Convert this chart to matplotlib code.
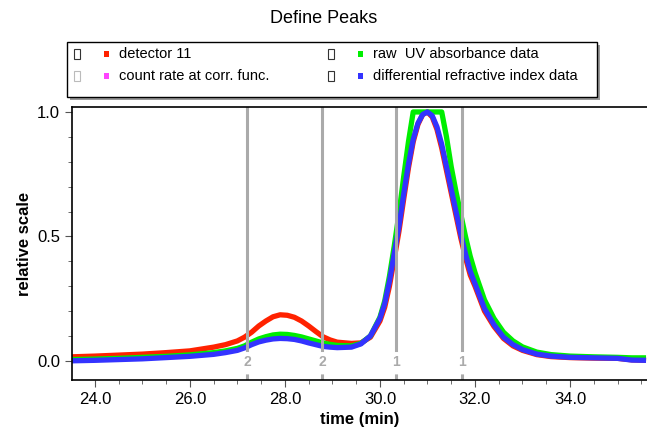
import matplotlib
matplotlib.use('Agg')
import matplotlib.pyplot as plt
from matplotlib.patches import Rectangle
from matplotlib.ticker import MultipleLocator

plt.rcParams['font.family'] = ['Liberation Sans', 'DejaVu Sans']

# time axis (min)
t = [23.5, 24.0, 24.5, 25.0, 25.5, 26.0, 26.5, 26.75, 27.0, 27.15, 27.3, 27.45, 27.6, 27.75,
     27.9, 28.05, 28.2, 28.35, 28.5, 28.65, 28.8, 28.95, 29.1, 29.4, 29.6, 29.8, 30.0, 30.1,
     30.2, 30.3, 30.4, 30.5, 30.6, 30.7, 30.8, 30.9, 31.0, 31.1, 31.2, 31.3, 31.4, 31.5,
     31.6, 31.7, 31.8, 31.9, 32.0, 32.2, 32.4, 32.6, 32.8, 33.0, 33.3, 33.6, 34.0, 34.5,
     35.0, 35.3, 35.6]

detector11 = [0.016, 0.019, 0.023, 0.027, 0.033, 0.040, 0.055, 0.065, 0.080, 0.095, 0.115,
              0.140, 0.160, 0.177, 0.185, 0.183, 0.175, 0.160, 0.140, 0.118, 0.097, 0.084,
              0.075, 0.070, 0.072, 0.095, 0.160, 0.215, 0.300, 0.410, 0.520, 0.650, 0.775,
              0.880, 0.950, 0.990, 1.000, 0.980, 0.930, 0.855, 0.765, 0.675, 0.585, 0.495,
              0.415, 0.345, 0.300, 0.200, 0.138, 0.090, 0.060, 0.042, 0.025, 0.017, 0.013,
              0.011, 0.010, 0.004, 0.002]

uv_abs = [0.005, 0.007, 0.010, 0.014, 0.018, 0.024, 0.033, 0.040, 0.050, 0.060, 0.075,
          0.088, 0.097, 0.104, 0.107, 0.106, 0.102, 0.096, 0.088, 0.080, 0.072, 0.066,
          0.062, 0.060, 0.070, 0.100, 0.175, 0.240, 0.340, 0.460, 0.590, 0.740, 0.880,
          1.000, 1.000, 1.000, 1.000, 1.000, 1.000, 1.000, 0.900, 0.780, 0.680, 0.590,
          0.500, 0.420, 0.355, 0.245, 0.170, 0.115, 0.080, 0.056, 0.035, 0.025, 0.019,
          0.016, 0.014, 0.012, 0.012]

diff_ri = [0.000, 0.002, 0.005, 0.008, 0.013, 0.018, 0.026, 0.033, 0.042, 0.052, 0.065,
           0.076, 0.083, 0.088, 0.090, 0.089, 0.086, 0.080, 0.072, 0.065, 0.058, 0.055,
           0.053, 0.055, 0.068, 0.100, 0.170, 0.230, 0.320, 0.430, 0.540, 0.670, 0.790,
           0.890, 0.955, 0.990, 1.000, 0.985, 0.940, 0.870, 0.780, 0.690, 0.600, 0.510,
           0.430, 0.360, 0.310, 0.210, 0.145, 0.095, 0.065, 0.045, 0.027, 0.019, 0.014,
           0.012, 0.010, 0.003, 0.002]

peak_limits = [27.2, 28.78, 30.33, 31.72]
peak_ids = ['2', '2', '1', '1']

legend_names = ['detector 11', 'count rate at corr. func.',
                'raw  UV absorbance data', 'differential refractive index data']
legend_colors = ['#ff2200', '#ff44ff', '#00ee00', '#3333ff']

fig = plt.figure(figsize=(6.47, 4.30), dpi=100)
ax = fig.add_axes([0.1113, 0.1163, 0.8887, 0.6349])

ax.plot(t, detector11, color=legend_colors[0], lw=3.8, solid_capstyle='butt')
ax.plot(t, uv_abs, color=legend_colors[2], lw=3.8, solid_capstyle='butt')
ax.plot(t, diff_ri, color=legend_colors[3], lw=3.8, solid_capstyle='butt')

ylo, yhi = -0.077, 1.02
ax.set_xlim(23.52, 35.62)
ax.set_ylim(ylo, yhi)

for x, lab in zip(peak_limits, peak_ids):
    ax.axvline(x, ymin=(0.042 - ylo) / (yhi - ylo), ymax=1, color='#aaaaaa', lw=2.2)
    ax.axvline(x, ymin=0, ymax=(-0.045 - ylo) / (yhi - ylo), color='#aaaaaa', lw=2.2,
               ls=(0, (2, 1.2)))
    ax.text(x, -0.004, lab, color='#aaaaaa', fontsize=10, fontweight='bold',
            ha='center', va='center')

ax.xaxis.set_major_locator(MultipleLocator(2))
ax.xaxis.set_minor_locator(MultipleLocator(0.5))
ax.yaxis.set_major_locator(MultipleLocator(0.5))
ax.yaxis.set_minor_locator(MultipleLocator(0.1))
ax.xaxis.set_major_formatter(plt.FormatStrFormatter('%.1f'))
ax.yaxis.set_major_formatter(plt.FormatStrFormatter('%.1f'))
ax.tick_params(which='major', direction='out', length=5, labelsize=12, color='#555555')
ax.tick_params(which='minor', direction='out', length=3, color='#555555')
ax.spines['right'].set_visible(False)
for s in ['left', 'bottom', 'top']:
    ax.spines[s].set_linewidth(1.2)

ax.set_xlabel('time (min)', fontsize=12, fontweight='bold', labelpad=4)
ax.set_ylabel('relative scale', fontsize=12, fontweight='bold', labelpad=4)

fig.text(0.5, 0.958, 'Define Peaks', ha='center', va='center', fontsize=13)

# legend box with shadow
W, H = 647.0, 430.0
bx, by, bw, bh = 67 / W, (430 - 97) / H, 530 / W, 55 / H
fig.patches.append(Rectangle((bx + 3 / W, by - 3 / H), bw, bh, transform=fig.transFigure,
                             facecolor='#999999', edgecolor='none', zorder=1))
fig.patches.append(Rectangle((bx, by), bw, bh, transform=fig.transFigure,
                             facecolor='white', edgecolor='black', lw=1, zorder=2))
rows_y = [54, 76]
cols_x = [77, 331]
for i, (name, col) in enumerate(zip(legend_names, legend_colors)):
    cx = cols_x[i // 2]
    cy = (430 - rows_y[i % 2]) / H
    box_col = '#bbbbbb' if i == 1 else '#333333'
    fig.patches.append(Rectangle(((cx - 3) / W, cy - 5 / H), 6 / W, 10 / H,
                                 transform=fig.transFigure, facecolor='white',
                                 edgecolor=box_col, lw=0.8, zorder=3))
    fig.patches.append(Rectangle(((cx + 27) / W, cy - 2.5 / H), 5 / W, 5 / H,
                                 transform=fig.transFigure, facecolor=col,
                                 edgecolor='none', zorder=3))
    fig.text((cx + 42) / W, cy, name, ha='left', va='center', fontsize=10.5, zorder=4)

fig.savefig('out.png', dpi=100)
